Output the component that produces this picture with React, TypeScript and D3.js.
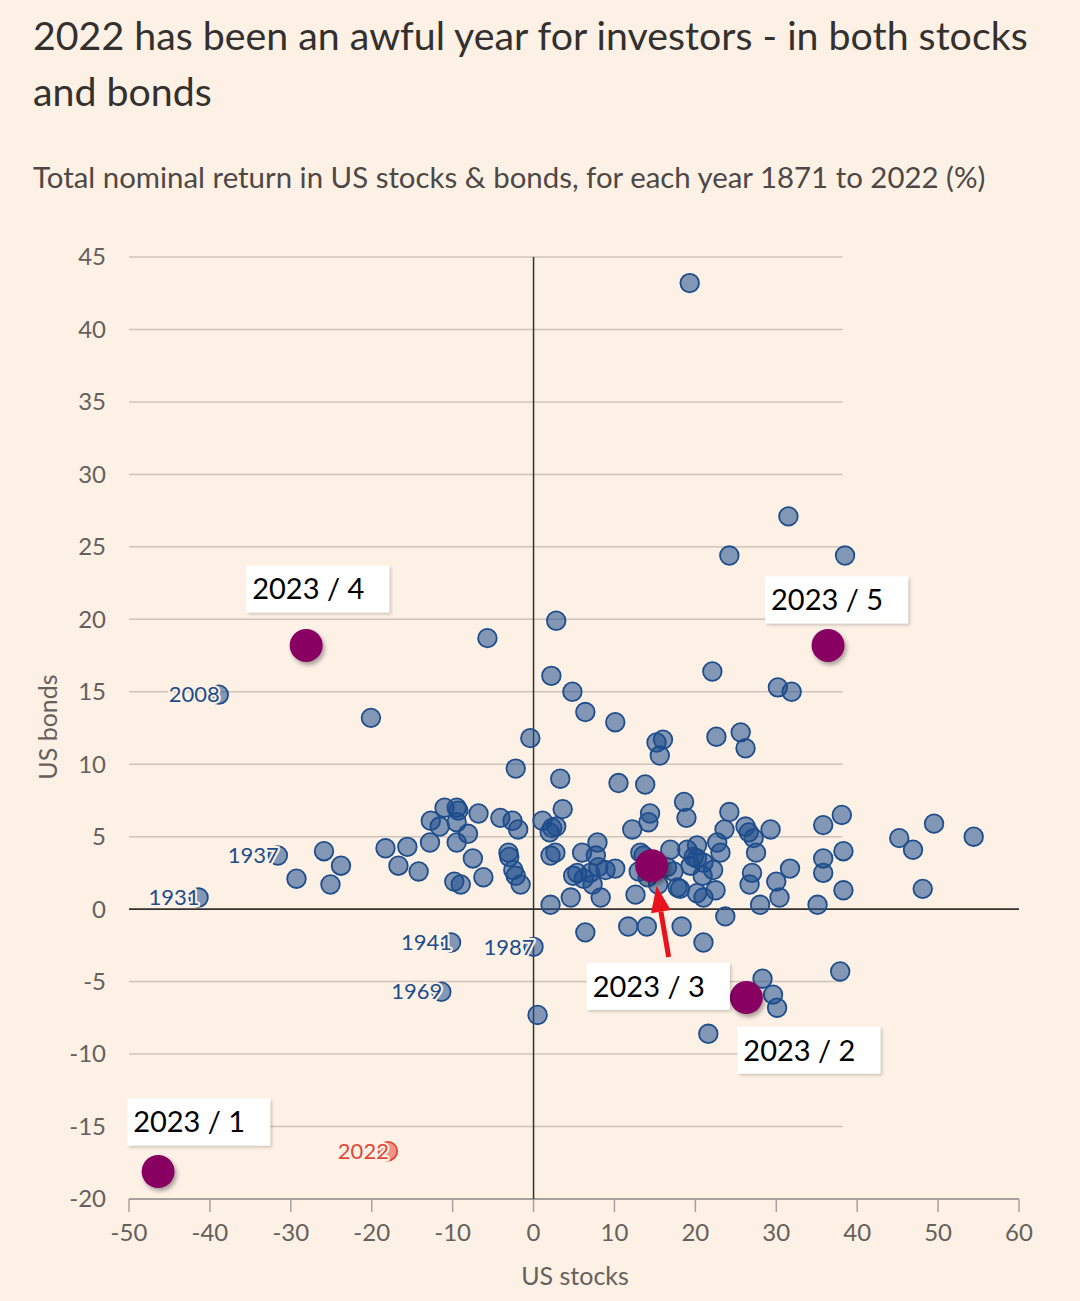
import React from 'react';
import * as d3 from 'd3';

// history: [stocks %, bonds %]
const history: [number, number][] = [
  [19.3, 43.2], [31.5, 27.1], [24.2, 24.4], [38.5, 24.4], [2.8, 19.9], [-5.7, 18.7],
  [2.2, 16.1], [22.1, 16.4], [30.2, 15.3], [31.9, 15.0], [4.8, 15.0], [6.4, 13.6],
  [-20.1, 13.2], [10.1, 12.9], [25.6, 12.2], [-0.4, 11.8], [22.6, 11.9], [15.2, 11.5],
  [16.0, 11.7], [15.6, 10.6], [26.2, 11.1], [-2.2, 9.7], [3.3, 9.0], [10.5, 8.7],
  [13.8, 8.6], [18.6, 7.4], [18.9, 6.3], [3.6, 6.9], [14.4, 6.6], [14.2, 6.0],
  [24.2, 6.7], [12.2, 5.5], [1.1, 6.1], [-1.9, 5.5], [2.8, 5.7], [2.0, 5.3],
  [26.2, 5.7], [29.3, 5.5], [23.6, 5.5], [26.6, 5.3], [27.2, 4.9], [35.8, 5.8],
  [38.1, 6.5], [49.5, 5.9], [54.4, 5.0], [45.2, 4.9], [46.9, 4.1], [38.3, 4.0],
  [48.1, 1.4], [35.8, 3.5], [35.8, 2.5], [38.3, 1.3], [35.1, 0.3], [31.7, 2.8],
  [30.0, 1.9], [30.4, 0.8], [28.0, 0.3], [27.0, 2.5], [26.7, 1.7], [27.5, 3.9],
  [37.9, -4.3], [28.3, -4.8], [29.6, -5.9], [30.1, -6.8], [21.6, -8.6], [0.5, -7.3],
  [23.7, -0.5], [21.0, -2.3], [18.3, -1.2], [14.0, -1.2], [11.7, -1.2], [6.4, -1.6],
  [-18.3, 4.2], [-15.6, 4.3], [-16.7, 3.0], [-14.2, 2.6], [-12.8, 4.6], [-12.7, 6.1],
  [-11.6, 5.7], [-11.0, 7.0], [-9.5, 7.0], [-9.3, 6.8], [-9.5, 6.0], [-8.1, 5.2],
  [-9.5, 4.6], [-6.8, 6.6], [-7.5, 3.5], [-6.2, 2.2], [-9.8, 1.9], [-9.0, 1.7],
  [-4.1, 6.3], [-2.6, 6.1], [-3.1, 3.9], [-3.0, 3.6], [-2.5, 2.7], [-2.2, 2.3],
  [-1.6, 1.7], [-25.9, 4.0], [-23.8, 3.0], [-29.3, 2.1], [-25.1, 1.7],
  [2.3, 5.6], [2.1, 3.7], [2.7, 3.9], [2.1, 0.3], [4.6, 0.8], [6.0, 3.9],
  [7.9, 4.6], [7.7, 3.7], [5.4, 2.5], [4.9, 2.3], [6.2, 2.1], [7.3, 1.7],
  [8.3, 0.8], [8.9, 2.7], [10.1, 2.8], [8.0, 2.9], [12.6, 1.0], [13.0, 2.6],
  [13.2, 3.9], [16.9, 4.1], [16.5, 2.9], [17.8, 1.5], [19.0, 4.1], [20.2, 3.5],
  [19.4, 3.0], [20.2, 1.1], [21.0, 0.8], [15.4, 1.7], [14.1, 2.2], [22.7, 4.6],
  [23.1, 3.9], [20.2, 4.4], [19.8, 3.6], [21.0, 3.2], [22.2, 2.7], [20.9, 2.3],
  [18.1, 1.4], [22.5, 1.3], [17.3, 2.6], [13.6, 3.7], [7.0, 2.5],
];

const labelledYears = ['2008', '1937', '1931', '1941', '1987', '1969', '2022'];
const labelledStocks = [-38.9, -31.6, -41.4, -10.2, 0.0, -11.4, -18.0];
const labelledBonds = [14.8, 3.7, 0.8, -2.3, -2.6, -5.7, -16.7];

const monthLabels = ['2023 / 1', '2023 / 2', '2023 / 3', '2023 / 4', '2023 / 5'];
const monthStocks = [-46.4, 26.3, 14.6, -28.1, 36.4];
const monthBonds = [-18.1, -6.1, 3.0, 18.2, 18.2];

const xTicks = [-50, -40, -30, -20, -10, 0, 10, 20, 30, 40, 50, 60];
const yTicks = [-20, -15, -10, -5, 0, 5, 10, 15, 20, 25, 30, 35, 40, 45];

const BG = '#fdf1e6';
const BLUE = '#1e4d8c';
const RED = '#e0483a';
const PURPLE = '#870062';

export default function App() {
  const width = 1080;
  const height = 1301;
  const x = d3.scaleLinear().domain([-50, 60]).range([129, 1019]);
  const y = d3.scaleLinear().domain([-20, 45]).range([1199, 257]);
  const gridEnd = x(38.2);

  // label boxes placed relative to their point (dx, dy from point to box top-left)
  const boxOffsets: [number, number][] = [[-31, -73], [-9, 29], [-65, 97], [-60, -80], [-63, -69]];
  const boxW = 143;
  const boxH = 47;

  const arrowFrom = [16.7, -3.3];
  const arrowTo = [15.2, 1.6];
  const ax1 = x(arrowFrom[0]), ay1 = y(arrowFrom[1]);
  const ax2 = x(arrowTo[0]), ay2 = y(arrowTo[1]);
  const ang = Math.atan2(ay2 - ay1, ax2 - ax1);
  const headLen = 26, headW = 10;
  const bx = ax2 - headLen * Math.cos(ang), by = ay2 - headLen * Math.sin(ang);
  const px = -Math.sin(ang), py = Math.cos(ang);

  return (
    <svg width={width} height={height} style={{ position: 'absolute', left: 0, top: 0, background: BG }}
      fontFamily="Lato, 'Open Sans', sans-serif">
      <defs>
        <filter id="shadow" x="-50%" y="-50%" width="200%" height="200%">
          <feDropShadow dx="2" dy="3" stdDeviation="2" floodColor="#000" floodOpacity="0.35" />
        </filter>
        <filter id="boxshadow" x="-10%" y="-20%" width="130%" height="150%">
          <feDropShadow dx="2" dy="2" stdDeviation="1.5" floodColor="#000" floodOpacity="0.18" />
        </filter>
      </defs>
      <rect width={width} height={height} fill={BG} />

      <text x={33} y={50} fontSize={39.3} fill="#33302e">2022 has been an awful year for investors - in both stocks</text>
      <text x={33} y={106} fontSize={39.3} fill="#33302e">and bonds</text>
      <text x={33} y={188} fontSize={29.4} fill="#4d4845">Total nominal return in US stocks &amp; bonds, for each year 1871 to 2022 (%)</text>

      {/* gridlines */}
      {yTicks.filter(t => t !== 0 && t !== -20).map(t => (
        <line key={t} x1={x(-50)} x2={gridEnd} y1={y(t)} y2={y(t)} stroke="#cfc4b9" strokeWidth={1.5} />
      ))}
      {yTicks.map(t => (
        <text key={t} x={106} y={y(t)} dy="0.35em" textAnchor="end" fontSize={24} fill="#66605c">{t}</text>
      ))}

      {/* bottom axis */}
      <line x1={x(-50)} x2={x(60)} y1={y(-20)} y2={y(-20)} stroke="#a8a09a" strokeWidth={2} />
      {xTicks.map(t => (
        <g key={t}>
          <line x1={x(t)} x2={x(t)} y1={y(-20)} y2={y(-20) + 13} stroke="#a8a09a" strokeWidth={1.5} />
          <text x={x(t)} y={y(-20) + 42} textAnchor="middle" fontSize={24} fill="#66605c">{t}</text>
        </g>
      ))}
      <text x={575} y={1285} textAnchor="middle" fontSize={25} fill="#66605c">US stocks</text>
      <text transform={`translate(57,727) rotate(-90)`} textAnchor="middle" fontSize={25} fill="#66605c">US bonds</text>

      {/* zero lines */}
      <line x1={x(0)} x2={x(0)} y1={y(45)} y2={y(-20)} stroke="#33302e" strokeWidth={1.5} />
      <line x1={x(-50)} x2={x(60)} y1={y(0)} y2={y(0)} stroke="#33302e" strokeWidth={1.8} />

      {/* historic years */}
      {history.map(([s, b], i) => (
        <circle key={i} cx={x(s)} cy={y(b)} r={9.3} fill={BLUE} fillOpacity={0.55} stroke={BLUE} strokeWidth={1.8} />
      ))}
      {labelledYears.map((yr, i) => {
        const c = yr === '2022' ? RED : BLUE;
        return (
          <g key={yr}>
            <circle cx={x(labelledStocks[i])} cy={y(labelledBonds[i])} r={9.3} fill={c} fillOpacity={0.55} stroke={c} strokeWidth={1.8} />
            <text x={x(labelledStocks[i]) + 1} y={y(labelledBonds[i])} dy="0.35em" textAnchor="end" fontSize={22}
              fill={c} stroke={BG} strokeWidth={4} paintOrder="stroke" strokeLinejoin="round">{yr}</text>
          </g>
        );
      })}

      {/* red arrow */}
      <line x1={ax1} y1={ay1} x2={bx} y2={by} stroke="#e8121c" strokeWidth={5} />
      <polygon points={`${ax2},${ay2} ${bx + px * headW},${by + py * headW} ${bx - px * headW},${by - py * headW}`} fill="#e8121c" />

      {/* 2023 months */}
      {monthLabels.map((m, i) => (
        <circle key={m} cx={x(monthStocks[i])} cy={y(monthBonds[i])} r={16.5} fill={PURPLE} filter="url(#shadow)" />
      ))}
      {monthLabels.map((m, i) => {
        const bx0 = x(monthStocks[i]) + boxOffsets[i][0];
        const by0 = y(monthBonds[i]) + boxOffsets[i][1];
        return (
          <g key={m}>
            <rect x={bx0} y={by0} width={boxW} height={boxH} fill="#fff" filter="url(#boxshadow)" />
            <text x={bx0 + 6} y={by0 + 34} fontSize={29} fill="#000" fontFamily="Lato, sans-serif">{m}</text>
          </g>
        );
      })}
    </svg>
  );
}
